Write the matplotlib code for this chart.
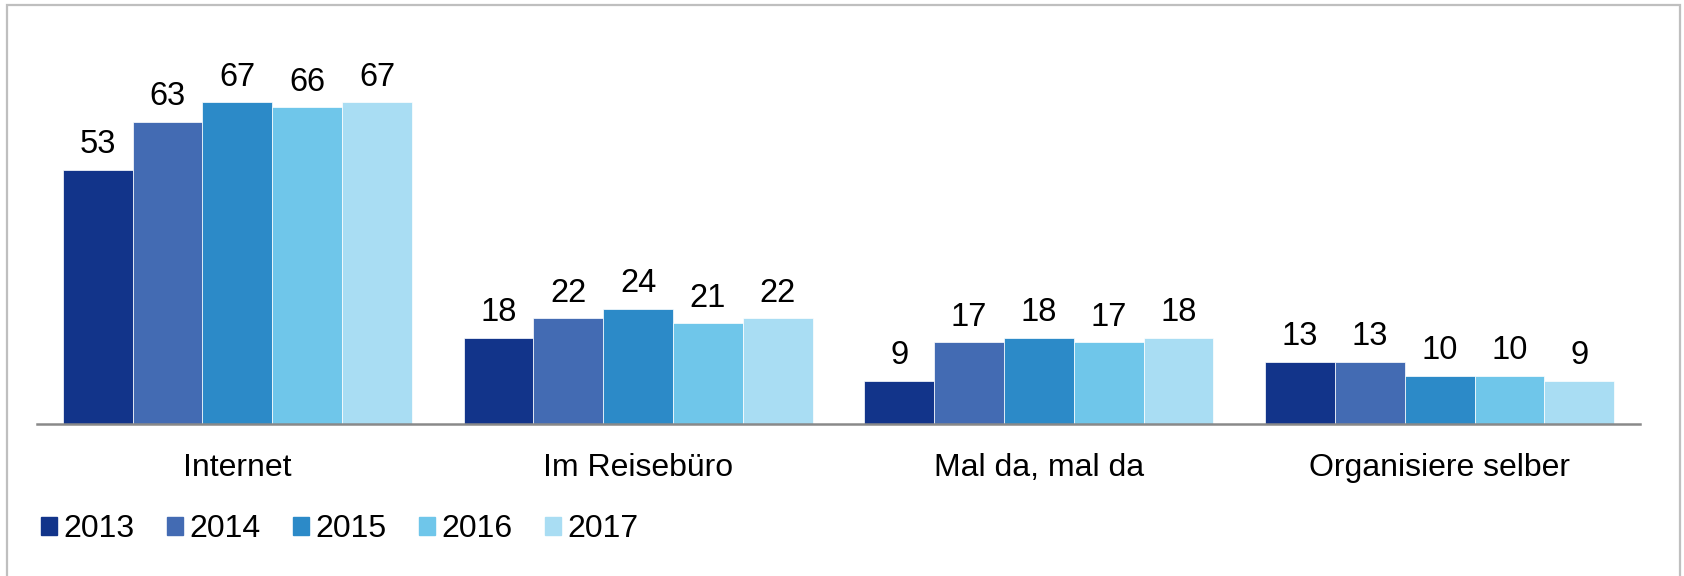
import numpy as np
import matplotlib.pyplot as plt
from matplotlib.patches import Rectangle, Patch

plt.rcParams['font.family'] = ['Liberation Sans', 'DejaVu Sans']

categories = ['Internet', 'Im Reisebüro', 'Mal da, mal da', 'Organisiere selber']
years = ['2013', '2014', '2015', '2016', '2017']
values = {
    '2013': [53, 18, 9, 13],
    '2014': [63, 22, 17, 13],
    '2015': [67, 24, 18, 10],
    '2016': [66, 21, 17, 10],
    '2017': [67, 22, 18, 9],
}
colors = ['#12348a', '#436bb3', '#2c8ac8', '#6fc6ea', '#a9ddf3']

W, H = 1684, 576
fig = plt.figure(figsize=(W/100, H/100), dpi=100)

# outer frame (bottom edge runs off the picture)
fig.add_artist(Rectangle((7/W, -0.02), (1680-7)/W, (H-5)/H + 0.02, transform=fig.transFigure,
                         fill=False, ec='#bfbfbf', lw=1.6, clip_on=False))

ax = fig.add_axes([37/W, (H-424)/H, (1640-37)/W, 360/H])
x = np.arange(len(categories))
bw = 0.871/len(years)
for i, yr in enumerate(years):
    pos = x - 0.871/2 + bw*(i+0.5)
    bars = ax.bar(pos, values[yr], width=bw, color=colors[i], edgecolor='white', lw=0.5, label=yr)
    for b, v in zip(bars, values[yr]):
        ax.annotate(str(v), (b.get_x()+b.get_width()/2, v), xytext=(0, 12),
                    textcoords='offset points', ha='center', va='baseline', fontsize=23.5)

ax.set_xlim(-0.5, 3.5)
ax.set_ylim(0, 75)
ax.set_yticks([])
ax.set_xticks(x)
ax.set_xticklabels(categories, fontsize=23)
ax.tick_params(axis='x', length=0, pad=21)
for s in ['top', 'right', 'left']:
    ax.spines[s].set_visible(False)
ax.spines['bottom'].set_color('#898989')
ax.spines['bottom'].set_linewidth(1.8)

handles = [Patch(color=c, label=y) for c, y in zip(colors, years)]
fig.legend(handles=handles, loc='center left', bbox_to_anchor=(41/W, (H-529)/H),
           ncol=5, frameon=False, fontsize=23, handlelength=0.5, handleheight=0.5,
           handletextpad=0.2, columnspacing=1.02, borderpad=0, borderaxespad=0)

fig.savefig('out.png', dpi=100)
